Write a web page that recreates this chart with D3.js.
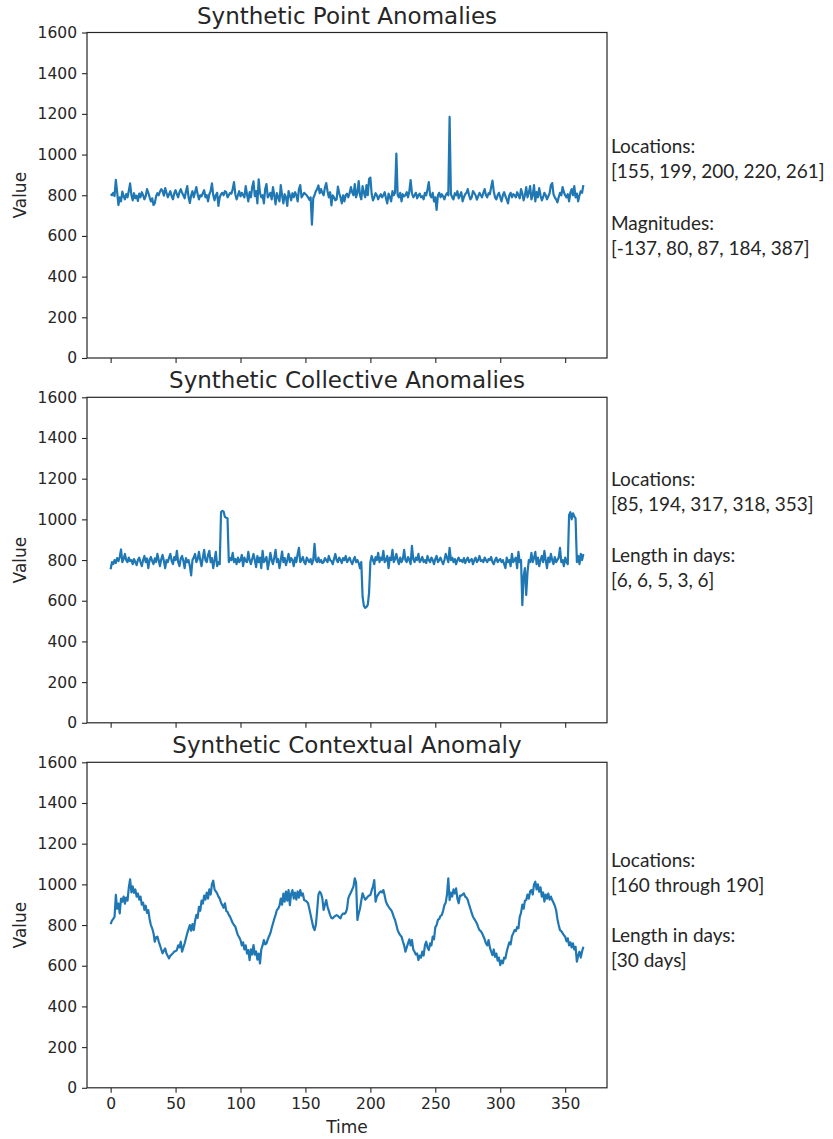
<!DOCTYPE html>
<html>
<head>
<meta charset="utf-8">
<script src="https://cdn.jsdelivr.net/npm/d3@7"></script>
<style>
  body { margin: 0; background: #fff; }
  text { fill: #262626; }
</style>
</head>
<body>
<div id="chart"></div>
<script>
const blue = "#1f77b4";
const ink = "#262626";

// daily values, one per day (0..364)
const pointValues = [
  805, 800, 812, 796, 876, 815, 752, 790, 770, 818,
  795, 780, 806, 790, 822, 858, 800, 775, 810, 785,
  798, 772, 808, 790, 815, 800, 780, 795, 830, 812,
  790, 770, 785, 752, 760, 795, 810, 800, 818, 830,
  820, 798, 835, 812, 790, 805, 820, 795, 780, 810,
  825, 805, 790, 815, 830, 812, 800, 785, 820, 845,
  790, 762, 800, 820, 790, 815, 840, 805, 780, 800,
  795, 810, 825, 790, 800, 770, 805, 820, 858, 800,
  775, 800, 812, 748, 790, 805, 812, 800, 820, 815,
  790, 800, 812, 808, 830, 865, 805, 780, 800, 820,
  795, 812, 800, 790, 845, 805, 770, 815, 790, 840,
  868, 795, 820, 760, 878, 812, 790, 800, 760, 830,
  855, 790, 800, 812, 780, 840, 800, 755, 810, 790,
  770, 850, 800, 760, 805, 790, 748, 820, 800, 775,
  810, 790, 815, 800, 770, 830, 850, 790, 800, 812,
  805, 800, 790, 778, 790, 655, 785, 800, 820, 830,
  848, 810, 830, 812, 800, 838, 860, 820, 790, 815,
  750, 800, 790, 775, 780, 842, 810, 790, 760, 800,
  770, 800, 808, 790, 810, 840, 815, 800, 855, 790,
  812, 870, 800, 780, 845, 812, 790, 850, 800, 880,
  887, 805, 775, 790, 810, 800, 780, 795, 805, 790,
  800, 815, 785, 760, 808, 792, 770, 820, 800, 812,
  1005, 800, 790, 812, 770, 805, 795, 800, 815, 790,
  820, 875, 810, 790, 800, 812, 785, 800, 808, 790,
  795, 780, 812, 800, 830, 865, 800, 790, 812, 770,
  790, 728, 800, 812, 790, 805, 795, 780, 800, 810,
  800, 1185, 805, 790, 780, 810, 800, 820, 785, 800,
  815, 770, 790, 805, 812, 830, 800, 780, 790, 820,
  810, 800, 778, 795, 812, 800, 790, 812, 830, 800,
  790, 810, 805, 840, 872, 820, 790, 780, 800, 812,
  790, 770, 800, 815, 795, 780, 760, 800, 812, 790,
  805, 800, 790, 815, 800, 785, 830, 808, 775, 800,
  840, 790, 812, 845, 780, 800, 850, 770, 815, 790,
  835, 800, 775, 790, 812, 800, 780, 795, 810, 850,
  860, 805, 790, 780, 765, 790, 812, 800, 840, 815,
  800, 790, 805, 770, 812, 830, 800, 845, 790, 808,
  770, 800, 820, 812, 850
];

const collectiveValues = [
  755, 790, 780, 800, 785, 810, 795, 815, 852, 790,
  805, 830, 800, 790, 812, 795, 800, 780, 805, 790,
  775, 800, 812, 790, 770, 800, 820, 790, 808, 760,
  800, 815, 795, 780, 808, 790, 830, 800, 770, 805,
  825, 795, 760, 800, 790, 812, 830, 795, 780, 815,
  800, 845, 790, 770, 808, 820, 795, 760, 810, 790,
  800, 770, 725, 800, 812, 830, 790, 805, 840, 800,
  770, 812, 850, 800, 790, 825, 845, 790, 810, 760,
  800, 840, 770, 790, 780, 1035, 1042, 1038, 1012, 1008,
  1005, 790, 810, 800, 835, 790, 805, 780, 812, 790,
  800, 825, 770, 812, 795, 790, 840, 800, 780, 805,
  830, 800, 765, 820, 790, 812, 760, 845, 790, 800,
  815, 755, 790, 835, 800, 780, 812, 850, 790, 805,
  760, 800, 842, 790, 810, 775, 800, 830, 790, 810,
  800, 770, 812, 790, 830, 860, 790, 800, 815, 790,
  780, 812, 800, 790, 805, 780, 800, 880, 800, 790,
  812, 790, 800, 785, 790, 810, 800, 790, 820, 800,
  795, 780, 805, 830, 800, 790, 812, 800, 785, 810,
  800, 820, 790, 800, 812, 795, 780, 800, 815, 790,
  800, 785, 760, 790, 620, 575, 565, 570, 580, 640,
  790, 820, 800, 780, 815, 800, 835, 790, 812, 800,
  845, 790, 800, 820, 760, 812, 800, 850, 790, 805,
  830, 800, 780, 812, 790, 805, 850, 800, 790, 815,
  800, 780, 870, 805, 790, 812, 800, 830, 790, 800,
  815, 790, 800, 785, 820, 800, 790, 812, 800, 780,
  805, 820, 790, 800, 812, 795, 780, 800, 830, 810,
  790, 860, 800, 812, 790, 805, 780, 800, 812, 795,
  800, 790, 810, 785, 800, 812, 790, 800, 805, 780,
  800, 812, 790, 800, 820, 795, 800, 790, 812, 800,
  790, 805, 800, 815, 790, 780, 800, 812, 790, 800,
  805, 790, 800, 780, 760, 812, 790, 800, 770, 830,
  790, 800, 812, 760, 840, 790, 800, 578, 720, 760,
  628, 740, 800, 790, 835, 790, 810, 840, 780, 812,
  770, 800, 820, 790, 845, 800, 760, 812, 790, 830,
  800, 780, 815, 790, 800, 812, 860, 790, 800, 770,
  812, 790, 780, 1020, 1035, 1000, 1030, 1015, 1005, 790,
  820, 780, 830, 800, 830
];

const contextualValues = [
  805, 822, 830, 840, 948, 880, 905, 857, 930, 915,
  940, 905, 935, 920, 985, 1025, 960, 990, 958, 975,
  940, 955, 925, 940, 900, 910, 875, 895, 860, 873,
  830, 800, 784, 760, 718, 740, 743, 720, 700, 680,
  661, 675, 685, 660, 648, 636, 650, 655, 662, 670,
  672, 677, 700, 690, 718, 669, 690, 710, 735, 760,
  780, 800, 772, 805, 775, 820, 850, 835, 890, 870,
  920, 905, 945, 925, 960, 930, 975, 950, 1000, 1018,
  975, 965, 956, 940, 930, 910, 898, 885, 907, 870,
  865, 850, 840, 825, 810, 800, 792, 770, 750, 740,
  726, 700, 715, 680, 700, 660, 677, 628, 680, 655,
  702, 655, 670, 630, 660, 611, 680, 700, 726, 705,
  710, 730, 745, 760, 785, 808, 830, 850, 874, 880,
  895, 930, 900, 955, 915, 965, 920, 972, 898, 955,
  972, 930, 960, 925, 965, 935, 972, 945, 955, 923,
  920, 915, 907, 880, 850, 820, 790, 775, 800, 870,
  950, 964, 955, 931, 874, 900, 923, 890, 870, 849,
  835, 833, 840, 845, 849, 845, 838, 833, 850, 857,
  855, 861, 880, 931, 948, 960, 975, 990, 1030, 1010,
  825, 857, 880, 920, 956, 940, 925, 931, 940, 945,
  948, 970, 989, 1021, 915, 940, 950, 960, 965, 960,
  972, 945, 915, 900, 890, 880, 874, 860, 840, 825,
  800, 775, 760, 750, 743, 720, 700, 669, 690, 710,
  730, 700, 726, 680, 669, 655, 660, 628, 650, 640,
  670, 650, 700, 718, 690, 677, 710, 700, 743, 730,
  790, 800, 825, 830, 845, 849, 870, 898, 910, 950,
  1030, 923, 960, 940, 975, 955, 980, 930, 907, 945,
  945, 950, 956, 940, 935, 923, 900, 880, 860, 841,
  830, 820, 808, 790, 775, 770, 760, 745, 730, 710,
  700, 726, 690, 670, 652, 680, 644, 660, 625, 640,
  603, 625, 612, 640, 636, 670, 693, 715, 705, 745,
  759, 775, 770, 790, 784, 840, 860, 900, 880, 920,
  923, 950, 930, 965, 972, 950, 1000, 1013, 975, 1000,
  964, 985, 940, 960, 915, 950, 930, 955, 925, 940,
  923, 910, 895, 874, 830, 800, 775, 770, 760, 750,
  743, 720, 735, 700, 715, 690, 710, 680, 693, 620,
  650, 669, 640, 670, 693
];

const titles = ["Synthetic Point Anomalies", "Synthetic Collective Anomalies", "Synthetic Contextual Anomaly"];
const notes = [
  ["Locations:", "[155, 199, 200, 220, 261]", "Magnitudes:", "[-137, 80, 87, 184, 387]"],
  ["Locations:", "[85, 194, 317, 318, 353]", "Length in days:", "[6, 6, 5, 3, 6]"],
  ["Locations:", "[160 through 190]", "Length in days:", "[30 days]"]
];
const xTicks = [0, 50, 100, 150, 200, 250, 300, 350];
const yTicks = [0, 200, 400, 600, 800, 1000, 1200, 1400, 1600];

// layout
const width = 833, height = 1139;
const left = 87, right = 607, plotH = 325.5;
const tops = [32.5, 397.3, 762.3];
const noteX = 611;
const noteBase = [[153, 178, 230, 255], [486, 511, 562, 587], [867, 892, 942, 967]];

const svg = d3.select("#chart").append("svg")
  .attr("width", width)
  .attr("height", height)
  .style("font-family", "'DejaVu Sans', sans-serif");

const series = [pointValues, collectiveValues, contextualValues];

series.forEach((values, i) => {
  const n = values.length - 1;
  const x = d3.scaleLinear().domain([-0.05 * n, 1.05 * n]).range([left, right]);
  const y = d3.scaleLinear().domain([0, 1600]).range([tops[i] + plotH, tops[i]]);

  const g = svg.append("g");

  // y axis
  const yAxis = g.append("g")
    .attr("transform", `translate(${left},0)`)
    .call(d3.axisLeft(y).tickValues(yTicks).tickSize(5).tickPadding(5).tickFormat(d3.format("d")));
  yAxis.select(".domain").remove();
  yAxis.selectAll("line").attr("stroke", ink).attr("stroke-width", 1.1);
  yAxis.selectAll("text").attr("font-size", 15.5).attr("fill", ink)
    .attr("font-family", "'DejaVu Sans', sans-serif");

  // x axis (labels only on the bottom panel)
  const xAxis = g.append("g")
    .attr("transform", `translate(0,${tops[i] + plotH})`)
    .call(d3.axisBottom(x).tickValues(xTicks).tickSize(5).tickPadding(5)
      .tickFormat(i === 2 ? d3.format("d") : () => ""));
  xAxis.select(".domain").remove();
  xAxis.selectAll("line").attr("stroke", ink).attr("stroke-width", 1.1);
  xAxis.selectAll("text").attr("font-size", 15.5).attr("fill", ink)
    .attr("font-family", "'DejaVu Sans', sans-serif");

  const line = d3.line()
    .x((d, k) => x(k))
    .y(d => y(d));

  g.append("path")
    .datum(values)
    .attr("d", line)
    .attr("fill", "none")
    .attr("stroke", blue)
    .attr("stroke-width", 2.2)
    .attr("stroke-linejoin", "round");

  // frame
  g.append("rect")
    .attr("x", left)
    .attr("y", tops[i])
    .attr("width", right - left)
    .attr("height", plotH)
    .attr("fill", "none")
    .attr("stroke", ink)
    .attr("stroke-width", 1.2);

  g.append("text")
    .attr("x", (left + right) / 2)
    .attr("y", tops[i] - 9)
    .attr("text-anchor", "middle")
    .attr("font-size", 23)
    .text(titles[i]);

  g.append("text")
    .attr("transform", `translate(26,${tops[i] + plotH / 2}) rotate(-90)`)
    .attr("text-anchor", "middle")
    .attr("font-size", 17)
    .text("Value");

  // notes on the right
  g.selectAll(".note")
    .data(notes[i])
    .join("text")
    .attr("class", "note")
    .attr("x", noteX)
    .attr("y", (d, k) => noteBase[i][k])
    .attr("font-family", "Lato, 'Open Sans', sans-serif")
    .attr("font-size", 19)
    .attr("fill", "#111")
    .text(d => d);

  if (i === 2) {
    g.append("text")
      .attr("x", (left + right) / 2)
      .attr("y", 1133)
      .attr("text-anchor", "middle")
      .attr("font-size", 17)
      .text("Time");
  }
});
</script>
</body>
</html>
